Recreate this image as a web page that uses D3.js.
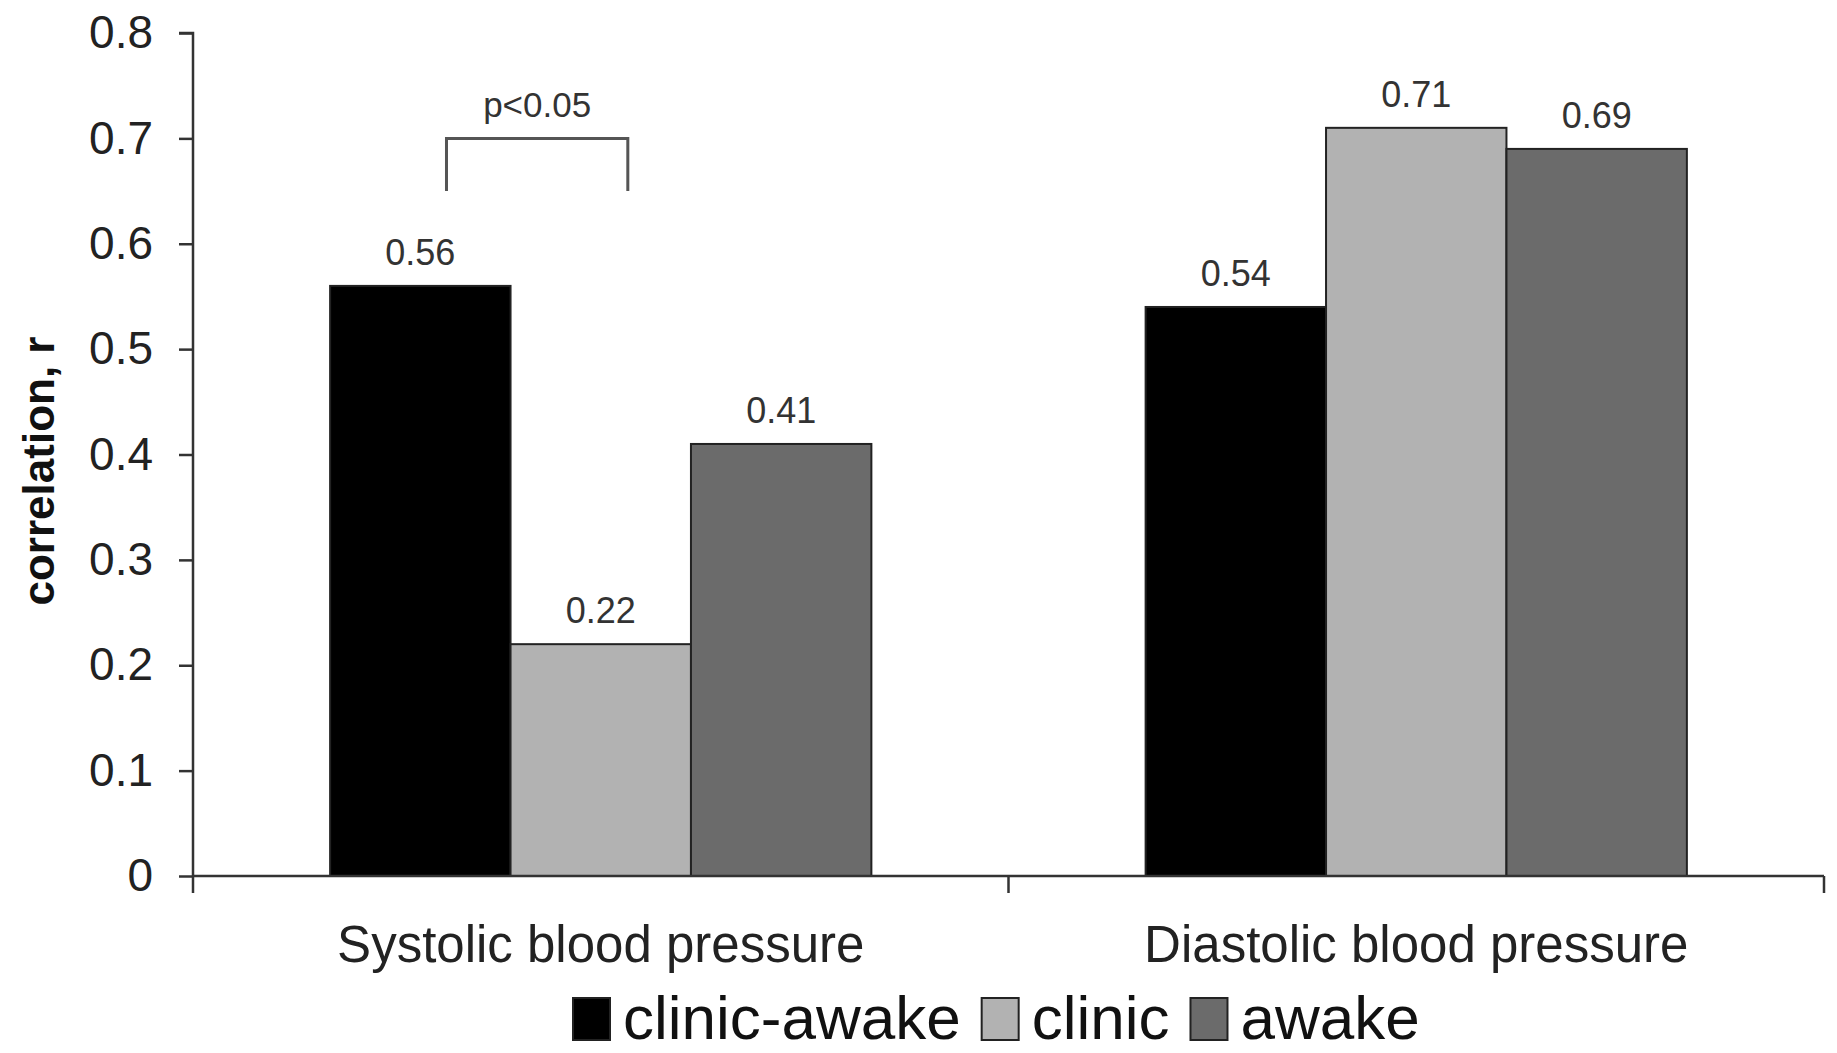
<!DOCTYPE html>
<html>
<head>
<meta charset="utf-8">
<script src="https://cdn.jsdelivr.net/npm/d3@7/dist/d3.min.js"></script>
<style>
  html, body { margin: 0; padding: 0; background: #fff; }
  svg { display: block; font-family: "Liberation Sans", Arial, sans-serif; }
</style>
</head>
<body>
<svg id="chart" width="1837" height="1053"></svg>
<script>
// ---- data ----
const categories = ["Systolic blood pressure", "Diastolic blood pressure"];
const series = ["clinic-awake", "clinic", "awake"];
const systolicValues = [0.56, 0.22, 0.41];
const diastolicValues = [0.54, 0.71, 0.69];
const valueLabels = [["0.56", "0.22", "0.41"], ["0.54", "0.71", "0.69"]];
const yTicks = [0, 0.1, 0.2, 0.3, 0.4, 0.5, 0.6, 0.7, 0.8];
const yTickLabels = ["0", "0.1", "0.2", "0.3", "0.4", "0.5", "0.6", "0.7", "0.8"];
const seriesColors = ["#000000", "#b2b2b2", "#6b6b6b"];
const yTitle = "correlation, r";
const bracketLabel = "p<0.05";
const bracketRange = [0.65, 0.70]; // data units for legs bottom / top

const values = [systolicValues, diastolicValues];

// ---- layout ----
const svg = d3.select("#chart");
const mLeft = 193, mRight = 1824, mTop = 33, mBottom = 876;

const y = d3.scaleLinear().domain([0, 0.8]).range([mBottom, mTop]);
const x0 = d3.scaleBand().domain(categories).range([mLeft, mRight]).paddingInner(0).paddingOuter(0);
const x1 = d3.scaleBand().domain(series).range([0, x0.bandwidth()]).paddingInner(0).paddingOuter(0.76);

// bars
const groups = svg.append("g").selectAll("g")
  .data(categories)
  .join("g")
  .attr("transform", d => `translate(${x0(d)},0)`);

groups.each(function(cat, ci) {
  const g = d3.select(this);
  const rows = series.map((s, si) => ({ s, si, v: values[ci][si], label: valueLabels[ci][si] }));
  g.selectAll("rect")
    .data(rows)
    .join("rect")
    .attr("x", d => x1(d.s))
    .attr("y", d => y(d.v))
    .attr("width", x1.bandwidth())
    .attr("height", d => y(0) - y(d.v))
    .attr("fill", d => seriesColors[d.si])
    .attr("stroke", "#222")
    .attr("stroke-width", 2);
  g.selectAll("text.val")
    .data(rows)
    .join("text")
    .attr("class", "val")
    .attr("x", d => x1(d.s) + x1.bandwidth() / 2)
    .attr("y", d => y(d.v) - 21)
    .attr("text-anchor", "middle")
    .attr("font-size", 36)
    .attr("fill", "#333")
    .text(d => d.label);
});

// y axis
const yAxis = d3.axisLeft(y).tickValues(yTicks)
  .tickFormat((d, i) => yTickLabels[i]).tickSize(14).tickPadding(26);
const yg = svg.append("g").attr("transform", `translate(${mLeft},0)`).call(yAxis);
yg.select(".domain").attr("stroke", "#333").attr("stroke-width", 2.5).attr("d", `M-14,${mTop}H0V${mBottom}`);
yg.selectAll(".tick line").attr("stroke", "#333").attr("stroke-width", 2.5);
yg.selectAll(".tick text").attr("font-size", 46).attr("fill", "#222")
  .attr("font-family", "'Liberation Sans', Arial, sans-serif");

// x axis (ticks at band boundaries)
const xg = svg.append("g");
xg.append("line")
  .attr("x1", mLeft).attr("x2", mRight)
  .attr("y1", y(0)).attr("y2", y(0))
  .attr("stroke", "#333").attr("stroke-width", 2.5);
const boundaries = [x0(categories[0]), x0(categories[1]), x0(categories[1]) + x0.bandwidth()];
xg.selectAll("line.xt")
  .data(boundaries)
  .join("line")
  .attr("class", "xt")
  .attr("x1", d => d).attr("x2", d => d)
  .attr("y1", y(0)).attr("y2", y(0) + 17)
  .attr("stroke", "#333").attr("stroke-width", 2.5);
xg.selectAll("text.cat")
  .data(categories)
  .join("text")
  .attr("class", "cat")
  .attr("x", d => x0(d) + x0.bandwidth() / 2)
  .attr("y", 962)
  .attr("text-anchor", "middle")
  .attr("font-size", 51)
  .attr("fill", "#222")
  .text(d => d);

// y title
svg.append("text")
  .attr("transform", `translate(39,471) rotate(-90)`)
  .attr("text-anchor", "middle")
  .attr("dy", "0.35em")
  .attr("font-size", 44)
  .attr("font-weight", "bold")
  .attr("fill", "#111")
  .text(yTitle);

// significance bracket between clinic-awake and clinic (systolic)
const bx1 = x0(categories[0]) + x1(series[0]) + x1.bandwidth() * 0.645;
const bx2 = x0(categories[0]) + x1(series[1]) + x1.bandwidth() * 0.65;
svg.append("path")
  .attr("d", `M${bx1},${y(bracketRange[0])}V${y(bracketRange[1])}H${bx2}V${y(bracketRange[0])}`)
  .attr("fill", "none")
  .attr("stroke", "#555")
  .attr("stroke-width", 3);
svg.append("text")
  .attr("x", (bx1 + bx2) / 2)
  .attr("y", y(bracketRange[1]) - 21)
  .attr("text-anchor", "middle")
  .attr("font-size", 35)
  .attr("fill", "#333")
  .text(bracketLabel);

// legend
const legend = svg.append("g");
let lx = 573;
series.forEach((s, i) => {
  legend.append("rect")
    .attr("x", lx).attr("y", 998)
    .attr("width", 37).attr("height", 42)
    .attr("fill", seriesColors[i])
    .attr("stroke", "#222").attr("stroke-width", 2);
  const t = legend.append("text")
    .attr("x", lx + 50).attr("y", 1039)
    .attr("font-size", 62)
    .attr("fill", "#111")
    .text(s);
  lx = lx + 50 + t.node().getComputedTextLength() + 21;
});
</script>
</body>
</html>
